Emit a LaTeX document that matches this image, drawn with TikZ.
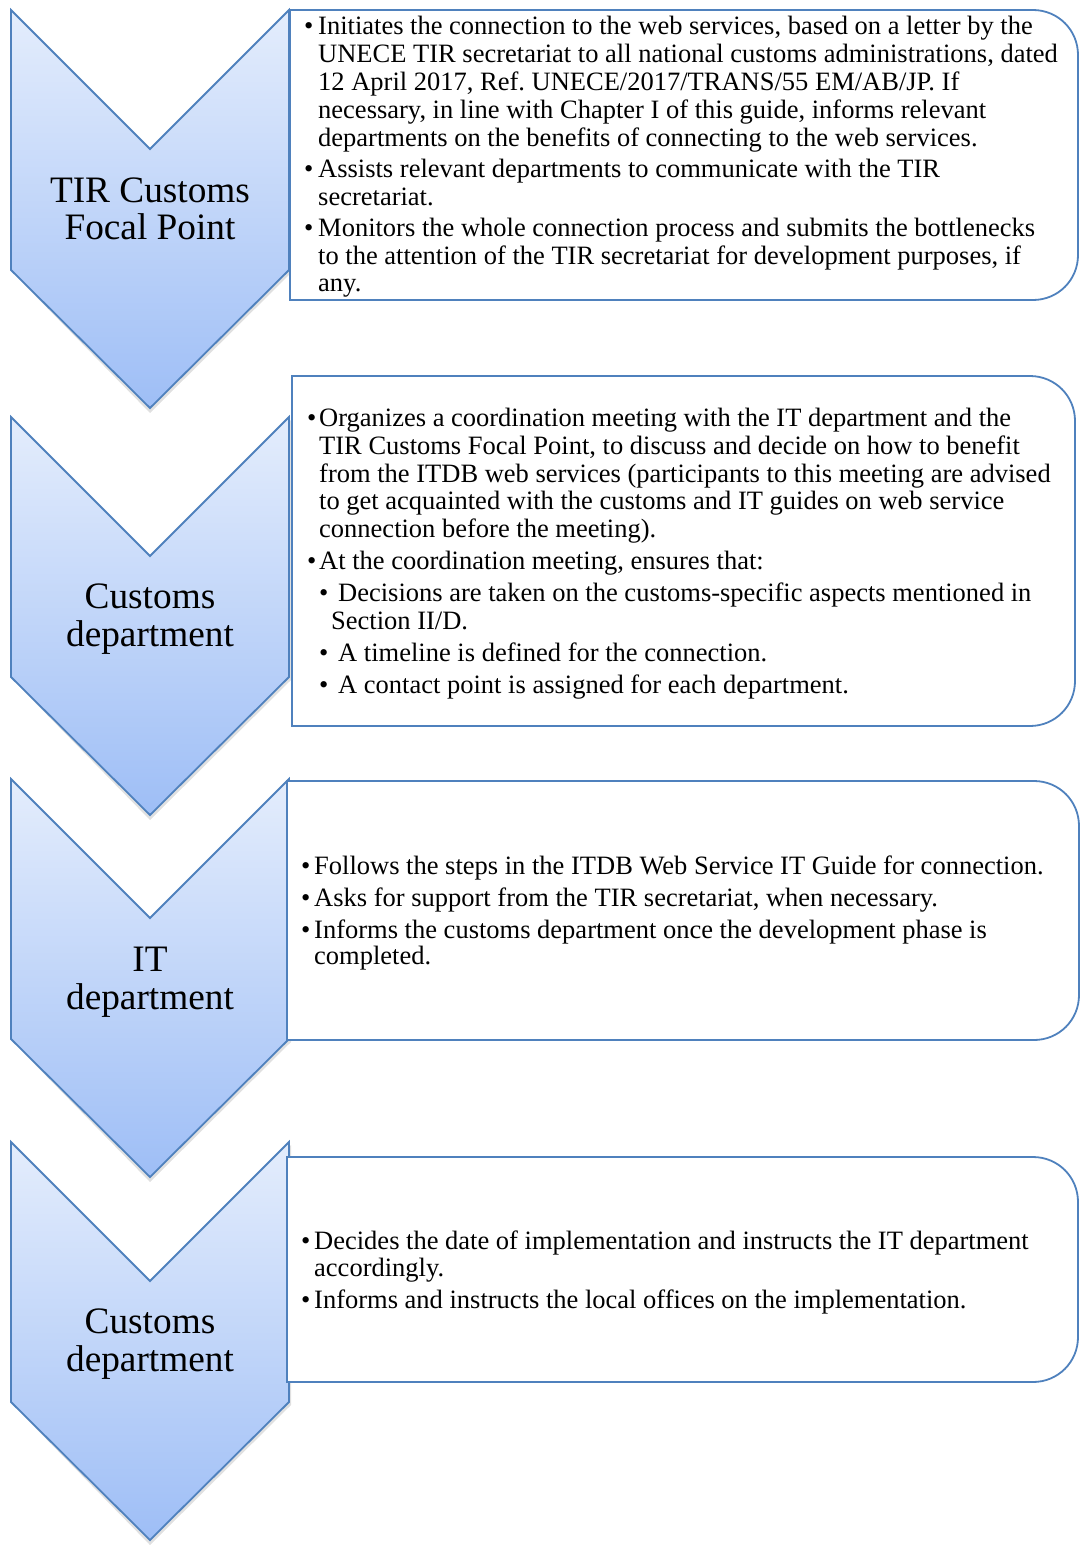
\documentclass[tikz,border=0pt]{standalone}
\usepackage{fontspec}
\setmainfont{Liberation Serif}
\frenchspacing
\definecolor{chevborder}{RGB}{79,129,189}
\definecolor{chevtop}{RGB}{228,237,252}
\definecolor{chevbot}{RGB}{158,190,246}
\tikzset{
  chevron/.style={draw=chevborder, line width=1.8pt, top color=chevtop, bottom color=chevbot, line join=miter},
  chevshadow/.style={fill=black, opacity=0.12},
  infobox/.style={draw=chevborder, line width=1.8pt, fill=white},
  boxtext/.style={anchor=base west, inner sep=0pt, font=\fontsize{26.5}{28}\selectfont},
  bul/.style={anchor=base west, inner sep=0pt, font=\fontsize{26.5}{28}\selectfont},
  chevlabel/.style={anchor=base, inner sep=0pt, font=\fontsize{37.3}{38}\selectfont},
}
\newcommand\mychev[1]{%
  \path[chevshadow] (13,{#1+3}) -- (150,{#1+142}) -- (291,{#1+3}) -- (291,{#1+263}) -- (150,{#1+403}) -- (13,{#1+263}) -- cycle;
  \path[chevron] (11,#1) -- (150,{#1+139}) -- (289,#1) -- (289,{#1+260}) -- (150,{#1+398}) -- (11,{#1+260}) -- cycle;}
\newcommand\myinfobox[4]{%
  \path[infobox] (#1,#2) -- ({#3-45},#2) .. controls ({#3-20},#2) and (#3,{#2+20}) .. (#3,{#2+45})
    -- (#3,{#4-45}) .. controls (#3,{#4-20}) and ({#3-20},#4) .. ({#3-45},#4) -- (#1,#4) -- cycle;}
\begin{document}
\begin{tikzpicture}[x=1pt,y=-1pt]
\useasboundingbox (0,0) rectangle (1080,1547);
% chevrons
\mychev{10}
\mychev{417}
\mychev{779}
\mychev{1142}
% boxes
\myinfobox{290}{10}{1078}{300}
\myinfobox{292}{376}{1075}{726}
\myinfobox{287}{781}{1079}{1040}
\myinfobox{287}{1157}{1078}{1382}
% chevron labels
\node[chevlabel] (c1a) at (150,202) {TIR Customs};
\node[chevlabel] (c1b) at (150,239) {Focal Point};
\node[chevlabel] (c2a) at (150,608) {Customs};
\node[chevlabel] (c2b) at (150,646) {department};
\node[chevlabel] (c3a) at (150,971) {IT};
\node[chevlabel] (c3b) at (150,1009) {department};
\node[chevlabel] (c4a) at (150,1333) {Customs};
\node[chevlabel] (c4b) at (150,1371) {department};
% box 1
\node[bul] (b1a) at (304,34) {•};
\node[boxtext] (t1a) at (318,34) {Initiates the connection to the web services, based on a letter by the};
\node[boxtext] (t1b) at (318,62) {UNECE TIR secretariat to all national customs administrations, dated};
\node[boxtext] (t1c) at (318,90) {12 April 2017, Ref. UNECE/2017/TRANS/55 EM/AB/JP. If};
\node[boxtext] (t1d) at (318,118) {necessary, in line with Chapter I of this guide, informs relevant};
\node[boxtext] (t1e) at (318,146) {departments on the benefits of connecting to the web services.};
\node[bul] (b1b) at (304,177) {•};
\node[boxtext] (t1f) at (318,177) {Assists relevant departments to communicate with the TIR};
\node[boxtext] (t1g) at (318,205) {secretariat.};
\node[bul] (b1c) at (304,236) {•};
\node[boxtext] (t1h) at (318,236) {Monitors the whole connection process and submits the bottlenecks};
\node[boxtext] (t1i) at (318,264) {to the attention of the TIR secretariat for development purposes, if};
\node[boxtext] (t1j) at (318,291) {any.};
% box 2
\node[bul] (b2a) at (307,426) {•};
\node[boxtext] (t2a) at (319,426) {Organizes a coordination meeting with the IT department and the};
\node[boxtext] (t2b) at (319,454) {TIR Customs Focal Point, to discuss and decide on how to benefit};
\node[boxtext] (t2c) at (319,482) {from the ITDB web services (participants to this meeting are advised};
\node[boxtext] (t2d) at (319,509) {to get acquainted with the customs and IT guides on web service};
\node[boxtext] (t2e) at (319,537) {connection before the meeting).};
\node[bul] (b2b) at (307,569) {•};
\node[boxtext] (t2f) at (319,569) {At the coordination meeting, ensures that:};
\node[bul] (b2c) at (319,601) {•};
\node[boxtext] (t2g) at (338,601) {Decisions are taken on the customs-specific aspects mentioned in};
\node[boxtext] (t2h) at (331,629) {Section II/D.};
\node[bul] (b2d) at (319,661) {•};
\node[boxtext] (t2i) at (338,661) {A timeline is defined for the connection.};
\node[bul] (b2e) at (319,693) {•};
\node[boxtext] (t2j) at (338,693) {A contact point is assigned for each department.};
% box 3
\node[bul] (b3a) at (301,874) {•};
\node[boxtext] (t3a) at (314,874) {Follows the steps in the ITDB Web Service IT Guide for connection.};
\node[bul] (b3b) at (301,906) {•};
\node[boxtext] (t3b) at (314,906) {Asks for support from the TIR secretariat, when necessary.};
\node[bul] (b3c) at (301,938) {•};
\node[boxtext] (t3c) at (314,938) {Informs the customs department once the development phase is};
\node[boxtext] (t3d) at (314,964) {completed.};
% box 4
\node[bul] (b4a) at (301,1249) {•};
\node[boxtext] (t4a) at (314,1249) {Decides the date of implementation and instructs the IT department};
\node[boxtext] (t4b) at (314,1276) {accordingly.};
\node[bul] (b4b) at (301,1308) {•};
\node[boxtext] (t4c) at (314,1308) {Informs and instructs the local offices on the implementation.};
\end{tikzpicture}
\end{document}
